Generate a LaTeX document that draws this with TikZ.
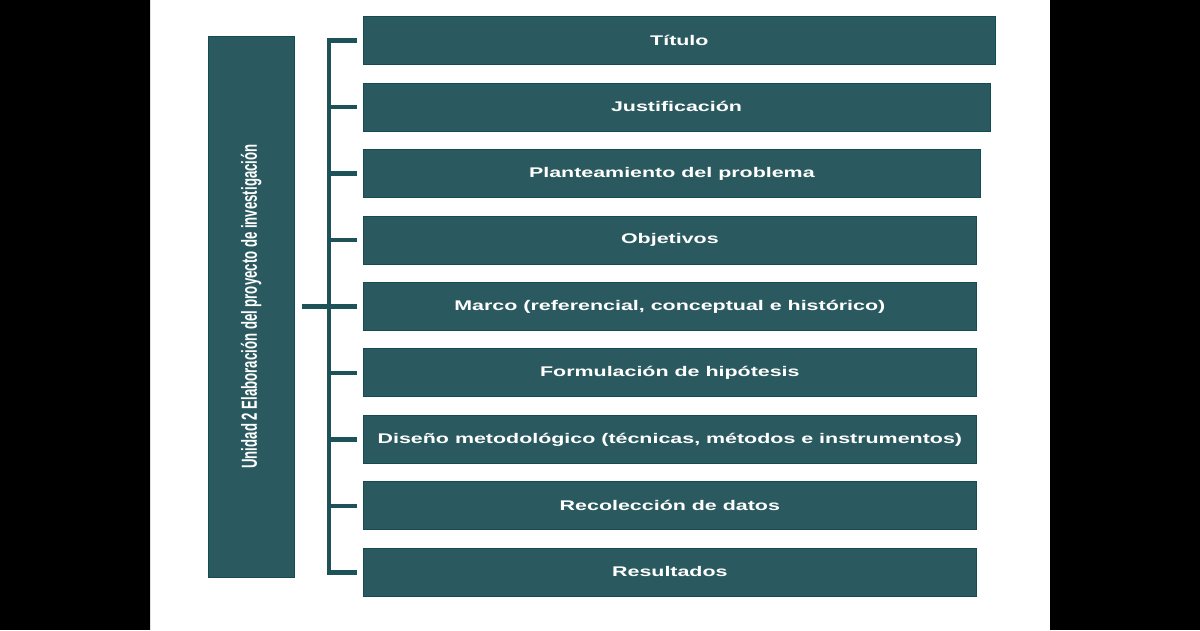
\documentclass[tikz,border=0pt]{standalone}
\usepackage{fontspec}
\setmainfont{Liberation Sans}
\definecolor{boxfill}{HTML}{2A5A5F}
\definecolor{boxline}{HTML}{134D53}
\definecolor{brkcol}{HTML}{1E5259}
\newcommand{\hs}[1]{\raisebox{1pt}{\scalebox{1.53}[1]{#1}}}
\begin{document}
\begin{tikzpicture}[x=1pt,y=-1pt,
  item/.style={draw=boxline, line width=1pt, fill=boxfill, text=white,
    minimum height=48pt, inner sep=0pt, anchor=north west,
    font=\fontsize{14}{16}\selectfont\bfseries},
  bracket/.style={draw=brkcol, line width=4.5pt}]
\useasboundingbox (0,0) rectangle (1200,630);
\fill[black] (0,0) rectangle (1200,630);
\fill[white] (150,0) rectangle (1050,630);
\draw[black!12, line width=1pt] (150.5,0) -- (150.5,630);
% left title box
\node[item, minimum width=85.7pt, minimum height=541pt] (L) at (207.8,35.5)
  {\rotatebox{90}{\scalebox{1}[1.65]{\fontsize{13.2}{15}\selectfont\bfseries Unidad 2 Elaboración del proyecto de investigación}}};
% item boxes
\node[item, minimum width=632.7pt] (b1) at (362.5,16.2) {\hs{Título}};
\node[item, minimum width=627pt]   (b2) at (362.5,82.65) {\hs{Justificación}};
\node[item, minimum width=617.7pt] (b3) at (362.5,149.1) {\hs{Planteamiento del problema}};
\node[item, minimum width=613.7pt] (b4) at (362.5,215.55) {\hs{Objetivos}};
\node[item, minimum width=613.7pt] (b5) at (362.5,282) {\hs{Marco (referencial, conceptual e histórico)}};
\node[item, minimum width=613.7pt] (b6) at (362.5,348.45) {\hs{Formulación de hipótesis}};
\node[item, minimum width=613.7pt] (b7) at (362.5,414.9) {\hs{Diseño metodológico (técnicas, métodos e instrumentos)}};
\node[item, minimum width=613.7pt] (b8) at (362.5,481.35) {\hs{Recolección de datos}};
\node[item, minimum width=613.7pt] (b9) at (362.5,547.8) {\hs{Resultados}};
% bracket
\draw[bracket] ([xshift=-5.5pt]b1.west) -- ++(-28,0) |- ([xshift=-5.5pt]b9.west);
\foreach \k in {2,3,4,6,7,8}
  \draw[bracket] ([xshift=-5.5pt]b\k.west) -- ++(-28,0);
\path (L.east) ++(7.5,0) coordinate (lx);
\draw[bracket] ([xshift=-5.5pt]b5.west) -- (lx |- b5.west);
\end{tikzpicture}
\end{document}
